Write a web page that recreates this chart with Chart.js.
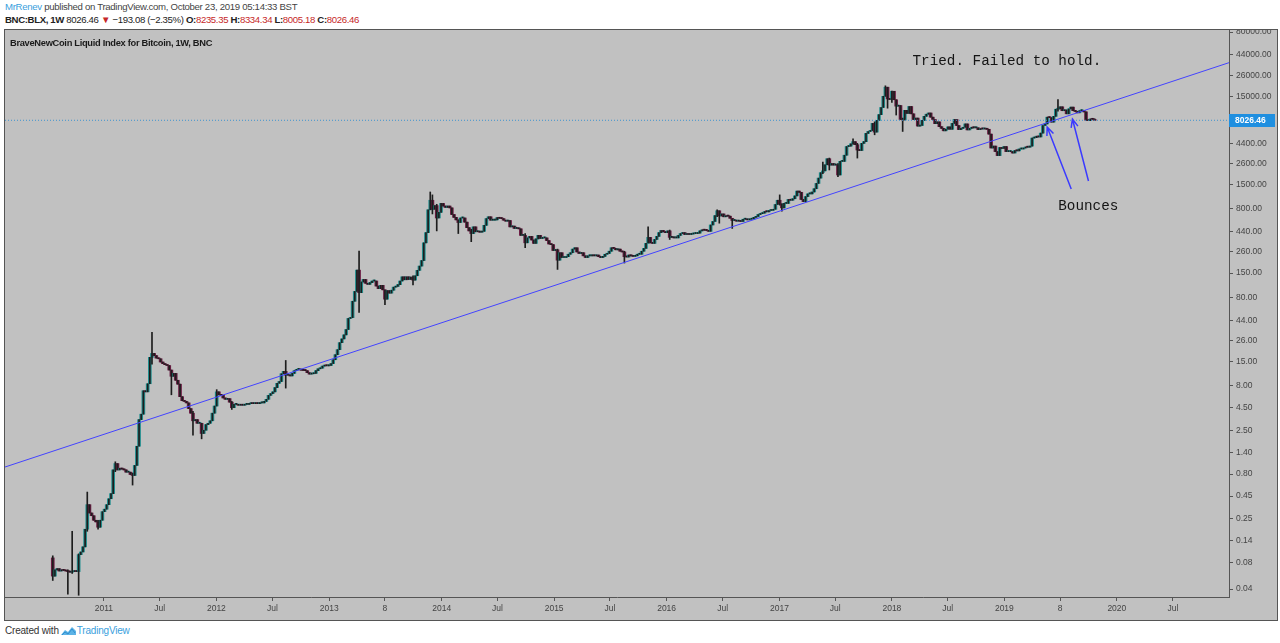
<!DOCTYPE html>
<html>
<head>
<meta charset="utf-8">
<script src="https://cdn.jsdelivr.net/npm/chart.js@4.4.0/dist/chart.umd.min.js"></script>
<style>
    body { margin: 0; width: 1280px; height: 643px; overflow: hidden; background: #fff; position: relative; font-family: "Liberation Sans", Arial, sans-serif; }
    #hdr1 { position: absolute; left: 5px; top: 1px; font-size: 9.6px; color: #444; letter-spacing: -0.3px; }
    #hdr1 .user { color: #3aa0dd; }
    #hdr2 { position: absolute; left: 5px; top: 14px; font-size: 9.6px; font-weight: bold; color: #222; letter-spacing: -0.35px; }
    #hdr2 .red { color: #c62828; font-weight: normal; }
    #hdr2 .n { font-weight: normal; }
    #box { position: absolute; left: 4px; top: 29px; width: 1272px; height: 590px; border: 1px solid #555; background: #c1c1c1; }
    #title { position: absolute; left: 5px; top: 8px; font-size: 9.3px; font-weight: bold; color: #1a1a1a; letter-spacing: -0.3px; }
    #footer { position: absolute; left: 5px; top: 625px; font-size: 10px; color: #333; letter-spacing: -0.2px; }
    #footer .tv { color: #3aa0dd; }
    #footer svg { vertical-align: -2px; margin: 0 1px 0 2px; }
</style>
</head>
<body>
<div id="hdr1"><span class="user">MrRenev</span> published on TradingView.com, October 23, 2019 05:14:33 BST</div>
<div id="hdr2">BNC:BLX, 1W <span class="n">8026.46</span> <span class="red">&#9660;</span> <span class="n">&minus;193.08 (&minus;2.35%)</span> O:<span class="red">8235.35</span> H:<span class="red">8334.34</span> L:<span class="red">8005.18</span> C:<span class="red">8026.46</span></div>
<div id="box">
    <canvas id="myChart" width="1272" height="590"></canvas>
    <div id="title">BraveNewCoin Liquid Index for Bitcoin, 1W, BNC</div>
</div>
<div id="footer">Created with<svg width="15" height="10" viewBox="0 0 15 10"><path d="M0 9 L4 4 L7 6 L11 1 L15 5 L15 9 Z" fill="#5cb3e6"/><path d="M1 9 L4 6 L7 8 L11 3 L14 7" stroke="#2f8fd0" stroke-width="1" fill="none"/></svg><span class="tv">TradingView</span></div>

<script>
// weekly closes, one array per year (week starts on monday, first week 19 Jul 2010)
const closes2010 = [0.056, 0.066, 0.068, 0.064, 0.066, 0.065, 0.064, 0.063, 0.062, 0.063, 0.064, 0.063,
    0.098, 0.105, 0.12, 0.19, 0.36, 0.29, 0.27, 0.24, 0.23, 0.2, 0.24, 0.3];
const closes2011 = [0.32, 0.36, 0.42, 0.48, 0.89, 1.05, 0.89, 0.93, 0.91, 0.89, 0.84, 0.84, 0.79, 0.77,
    1.0, 1.65, 3.3, 3.8, 7.0, 6.8, 8.4, 16.7, 18.5, 17.5, 16.4, 16.1, 14.8, 14.2, 13.8, 13.5,
    12.0, 10.2, 11.0, 9.2, 8.3, 6.0, 5.4, 5.3, 5.1, 4.4, 3.9, 3.2, 3.3, 3.0, 3.0, 2.3, 2.5, 2.9,
    3.0, 3.2, 3.9, 4.7];
const closes2012 = [6.8, 6.3, 6.2, 5.8, 5.6, 5.7, 5.2, 4.5, 4.9, 4.9,
    4.8, 4.9, 4.8, 4.9, 4.9, 5.0, 5.1, 5.0, 5.1, 5.0,
    5.1, 5.1, 5.3, 5.6, 6.2, 6.5, 6.8, 7.6, 8.5, 8.9,
    10.9, 11.6, 10.5, 10.6, 10.3, 11.0, 11.8, 12.2, 12.3, 12.0,
    11.9, 11.8, 11.2, 10.8, 10.9, 11.0, 11.8, 12.4, 12.6, 13.3,
    13.5, 13.4, 13.5];
const closes2013 = [14.2, 15.7, 17.9, 20.4, 24.5, 27, 30, 34.5, 46, 47,
    72, 93, 162, 90, 119, 127, 115, 112, 117, 122,
    122, 107, 100, 109, 97, 76, 95, 89, 96, 104,
    106, 111, 122, 136, 126, 136, 127, 135, 125, 140,
    161, 180, 208, 330, 430, 780, 1000, 790, 870, 630,
    730, 920];
const closes2014 = [860, 830, 860, 820, 690, 640, 600, 560, 630, 630,
    565, 490, 450, 420, 500, 440, 440, 435, 445, 520,
    620, 650, 595, 595, 600, 635, 625, 620, 595, 580,
    590, 500, 510, 480, 480, 475, 400, 400, 330, 375,
    390, 355, 325, 365, 400, 370, 375, 375, 350, 320,
    315, 270];
const closes2015 = [275, 210, 255, 225, 225, 230, 245, 255, 280, 290,
    260, 250, 255, 235, 225, 235, 235, 240, 235, 240,
    230, 225, 232, 245, 250, 265, 290, 285, 275, 280,
    265, 260, 230, 228, 240, 235, 232, 235, 245, 245,
    265, 285, 325, 380, 330, 325, 360, 390, 430, 455,
    440, 430];
const closes2016 = [450, 380, 385, 375, 375, 400, 420, 430, 410, 415,
    410, 415, 420, 420, 425, 450, 460, 458, 455, 445,
    525, 575, 670, 760, 665, 700, 650, 665, 660, 625,
    590, 590, 580, 585, 575, 610, 610, 600, 610, 615,
    640, 655, 690, 705, 715, 745, 740, 765, 770, 790,
    895, 1000];
const closes2017 = [910, 820, 920, 920, 1020, 1000, 1040, 1120, 1270, 1230,
    1020, 965, 1100, 1180, 1180, 1240, 1350, 1550, 1780, 2050,
    2150, 2520, 2950, 2500, 2600, 2500, 2500, 1930, 2750, 2750,
    3230, 4050, 4100, 4350, 4600, 4250, 3700, 3650, 4400, 4600,
    5700, 6000, 6150, 7400, 5900, 8000, 9300, 11200, 15000, 19000,
    14000, 13800];
const closes2018 = [17100, 13700, 11600, 11800, 8200, 8100, 10400, 9600, 11500, 9500,
    8200, 8500, 6900, 7000, 8000, 8900, 9400, 9700, 8700, 8200,
    7350, 7700, 6800, 6500, 6100, 6350, 6750, 6350, 7400, 8200,
    7000, 6300, 6500, 6700, 7300, 6250, 6500, 6700, 6600, 6600,
    6300, 6450, 6400, 6450, 6350, 5600, 3900, 4100, 3550, 3200,
    3950, 3850, 4050];
const closes2019 = [3550, 3550, 3550, 3420, 3650, 3620, 3800, 3800, 3900, 4000,
    3980, 4100, 5050, 5100, 5300, 5200, 5750, 7000, 7300, 8700,
    8600, 7650, 8900, 10700, 10800, 11400, 10300, 10500, 9500, 10800,
    11300, 10300, 10100, 9750, 10300, 10350, 10000, 8050, 7950, 8300,
    8235.35, 8026.46];
const firstOpen = 0.09;

// weeks with a visible wick (index from first week), their high and low
const wickWeeks = [0, 7, 9, 12, 16, 21, 29, 37, 46, 55, 65, 69, 76, 83, 108, 142, 154, 167, 175, 176,
    178, 188, 194, 219, 234, 265, 276, 286, 308, 309, 315, 337, 338, 357, 360, 364, 371, 373, 381,
    386, 387, 389, 391, 394, 466, 483];
const wickHighs = [0.095, 0.066, 0.18, 0.1, 0.5, 0.24, 1.1, 0.82, 32, 12, 4.1, 3.0, 7.2, 5.3, 15.4, 266, 97, 140, 1240, 1150,
    900, 600, 470, 420, 280, 265, 500, 460, 780, 760, 620, 1150, 910, 2700, 3000, 2600, 4950, 4400, 7700,
    19700, 19000, 17200, 13700, 8500, 13800, 8334.34];
const wickLows = [0.05, 0.035, 0.06, 0.034, 0.18, 0.19, 0.85, 0.6, 14, 6.3, 2.2, 2.0, 4.7, 4.3, 7.5, 54, 66, 110, 780, 700,
    450, 420, 340, 290, 165, 195, 330, 360, 650, 550, 480, 880, 750, 2000, 2200, 1850, 4300, 3000, 5500,
    15000, 11000, 12800, 9200, 6000, 10200, 8005.18];

const lastPrice = 8026.46;
const trendValues = [0.96, 36000];

const yTicks = [0.04, 0.08, 0.14, 0.25, 0.45, 0.8, 1.4, 2.5, 4.5, 8, 15, 26, 44, 80, 150, 260, 440, 800,
    1500, 2600, 4400, 15000, 26000, 44000, 80000];
const xTickLabels = ['2011', 'Jul', '2012', 'Jul', '2013', '8', '2014', 'Jul', '2015', 'Jul',
    '2016', 'Jul', '2017', 'Jul', '2018', 'Jul', '2019', '8', '2020', 'Jul'];
const xTickDates = ['2011-01-01', '2011-07-01', '2012-01-01', '2012-07-01', '2013-01-01', '2013-07-01',
    '2014-01-01', '2014-07-01', '2015-01-01', '2015-07-01', '2016-01-01', '2016-07-01', '2017-01-01',
    '2017-07-01', '2018-01-01', '2018-07-01', '2019-01-01', '2019-07-01', '2020-01-01', '2020-07-01'];

// drawings: text notes and the two arrows, in date / price
const notes = [
    { text: 'Tried. Failed to hold.', date: '2018-03-09', price: 33900 },
    { text: 'Bounces', date: '2019-06-25', price: 775 }
];
const arrows = [
    { from: ['2019-08-06', 1340], to: ['2019-05-20', 6730] },
    { from: ['2019-10-01', 1650], to: ['2019-08-10', 8300] }
];

document.addEventListener("DOMContentLoaded", function() {
    const ChartCanvas = document.getElementById('myChart');
    const fontFamily = '"Liberation Sans", Arial, sans-serif';
    const upColor = '#1f8e8e';
    const downColor = '#6c1e45';
    const WEEK = 7 * 24 * 3600 * 1000;
    const firstWeek = Date.UTC(2010, 6, 19);
    const xMin = Date.UTC(2010, 1, 14);
    const xMax = Date.UTC(2020, 11, 30);
    const yMin = 0.0325;
    const yMax = 84300;

    const closes = [].concat(closes2010, closes2011, closes2012, closes2013, closes2014,
        closes2015, closes2016, closes2017, closes2018, closes2019);

    let bodies = [];
    let sticks = [];
    let bodyColors = [];
    closes.forEach((c, i) => {
        const t = firstWeek + i * WEEK;
        const o = i === 0 ? firstOpen : closes[i - 1];
        const k = wickWeeks.indexOf(i);
        const hi = k >= 0 ? wickHighs[k] : Math.max(o, c);
        const lo = k >= 0 ? wickLows[k] : Math.min(o, c);
        bodies.push({ x: t, y: [o, c] });
        sticks.push({ x: t, y: [lo, hi] });
        bodyColors.push(c >= o ? upColor : downColor);
    });

    const day = s => Date.parse(s + 'T00:00:00Z');

    // notes, arrows and the last price label
    const drawingsPlugin = {
        id: 'drawings',
        afterDatasetsDraw(chart) {
            const ctx = chart.ctx;
            const xs = chart.scales.x;
            const ys = chart.scales.y;
            ctx.save();
            ctx.fillStyle = '#151515';
            ctx.font = '14.3px "Liberation Mono", monospace';
            ctx.textBaseline = 'alphabetic';
            notes.forEach(n => {
                ctx.fillText(n.text, xs.getPixelForValue(day(n.date)), ys.getPixelForValue(n.price));
            });
            ctx.strokeStyle = '#3a3aff';
            ctx.lineWidth = 1.5;
            arrows.forEach(a => {
                const x1 = xs.getPixelForValue(day(a.from[0])), y1 = ys.getPixelForValue(a.from[1]);
                const x2 = xs.getPixelForValue(day(a.to[0])), y2 = ys.getPixelForValue(a.to[1]);
                const ang = Math.atan2(y2 - y1, x2 - x1);
                ctx.beginPath();
                ctx.moveTo(x1, y1);
                ctx.lineTo(x2, y2);
                ctx.moveTo(x2 - 9 * Math.cos(ang - 0.4), y2 - 9 * Math.sin(ang - 0.4));
                ctx.lineTo(x2, y2);
                ctx.lineTo(x2 - 9 * Math.cos(ang + 0.4), y2 - 9 * Math.sin(ang + 0.4));
                ctx.stroke();
            });
            ctx.restore();
        },
        afterDraw(chart) {
            const ctx = chart.ctx;
            const y = chart.scales.y.getPixelForValue(lastPrice);
            const x = chart.chartArea.right;
            ctx.save();
            ctx.fillStyle = '#1f8fe0';
            ctx.fillRect(x, Math.round(y) - 6, 46, 13);
            ctx.fillStyle = '#ffffff';
            ctx.font = 'bold 8.5px ' + fontFamily;
            ctx.textBaseline = 'middle';
            ctx.fillText(lastPrice.toFixed(2), x + 6, Math.round(y) + 0.5);
            ctx.restore();
        }
    };

    new Chart(ChartCanvas, {
        type: 'bar',
        data: {
            datasets: [{
                type: 'line',
                label: 'trend',
                data: [{ x: xMin, y: trendValues[0] }, { x: xMax, y: trendValues[1] }],
                borderColor: '#4343ff',
                borderWidth: 1,
                pointRadius: 0
            }, {
                type: 'line',
                label: 'last',
                data: [{ x: xMin, y: lastPrice }, { x: xMax, y: lastPrice }],
                borderColor: '#3f93cf',
                borderWidth: 1,
                borderDash: [1, 2],
                pointRadius: 0
            }, {
                label: 'wicks',
                data: sticks,
                backgroundColor: '#1d1d1d',
                barThickness: 1,
                minBarLength: 1,
                grouped: false
            }, {
                label: 'bodies',
                data: bodies,
                backgroundColor: bodyColors,
                barThickness: 3,
                minBarLength: 1,
                grouped: false
            }]
        },
        options: {
            responsive: false,
            animation: false,
            devicePixelRatio: 1,
            layout: { padding: 0 },
            plugins: {
                legend: { display: false },
                tooltip: { enabled: false }
            },
            scales: {
                x: {
                    type: 'linear',
                    min: xMin,
                    max: xMax,
                    offset: false,
                    grid: { drawOnChartArea: false, offset: false, tickLength: 4, color: '#555' },
                    border: { display: true, color: '#555' },
                    ticks: {
                        autoSkip: false,
                        maxRotation: 0,
                        padding: 3,
                        color: '#444',
                        font: { family: fontFamily, size: 8.5 },
                        callback: (v, i) => xTickLabels[i]
                    },
                    afterBuildTicks: s => { s.ticks = xTickDates.map(d => ({ value: day(d) })); },
                    afterFit: s => { s.height = 23; s.paddingLeft = 0; s.paddingRight = 0; }
                },
                y: {
                    type: 'logarithmic',
                    position: 'right',
                    min: yMin,
                    max: yMax,
                    grid: { drawOnChartArea: false, tickLength: 4, color: '#555' },
                    border: { display: true, color: '#555' },
                    ticks: {
                        padding: 3,
                        color: '#444',
                        font: { family: fontFamily, size: 8.5 },
                        callback: v => Number(v).toFixed(2)
                    },
                    afterBuildTicks: s => { s.ticks = yTicks.map(v => ({ value: v })); },
                    afterFit: s => { s.width = 48; s.paddingTop = 0; s.paddingBottom = 0; }
                }
            }
        },
        plugins: [drawingsPlugin]
    });
});
</script>
</body>
</html>
